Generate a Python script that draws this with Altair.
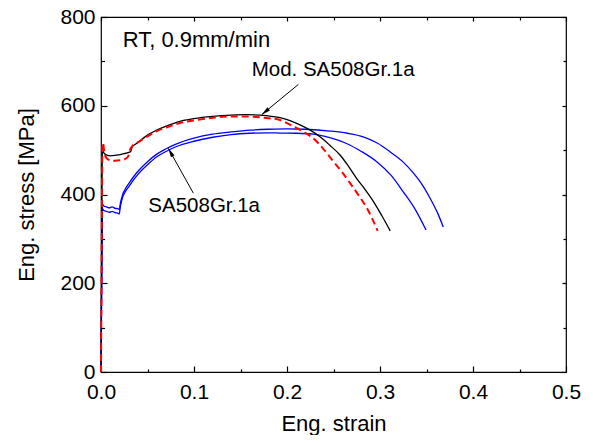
import math
import pandas as pd
import altair as alt

# ---------------- data ----------------
# Mod. SA508Gr.1a (black solid)
mod_x = [0, 0.0008, 0.0015, 0.003, 0.006, 0.01, 0.015, 0.02, 0.025, 0.03, 0.032, 0.0335, 0.037,
         0.04, 0.045, 0.05, 0.06, 0.07, 0.085, 0.10, 0.12, 0.14, 0.155, 0.17, 0.18, 0.1925, 0.204,
         0.214, 0.225, 0.2355, 0.246, 0.257, 0.266, 0.275, 0.284, 0.293, 0.302, 0.311]
mod_y = [0, 300, 500, 494, 489, 487, 488, 490, 492, 495, 497, 507, 513,
         518, 526, 534, 545, 554, 565, 571, 576, 579, 580, 579, 577, 573, 566,
         557, 545, 530, 511, 489, 464, 436, 411, 384, 352, 318]

# Mod. SA508Gr.1a (red dashed)
modb_x = [0, 0.0008, 0.0015, 0.002, 0.004, 0.007, 0.01, 0.015, 0.02, 0.025, 0.029, 0.031, 0.034,
          0.04, 0.05, 0.06, 0.07, 0.085, 0.10, 0.12, 0.14, 0.155, 0.17, 0.18, 0.1925, 0.207, 0.218,
          0.228, 0.239, 0.25, 0.259, 0.268, 0.277, 0.286, 0.2975]
modb_y = [0, 300, 505, 517, 490, 480, 477, 476, 477, 479, 485, 500, 510,
          518, 531, 543, 551, 561, 567, 573, 576, 576, 574, 572, 568, 553, 541,
          527, 503, 474, 451, 425, 398, 369, 318]

# SA508Gr.1a specimen 1 (blue)
sa1_x = [0, 0.0008, 0.0015, 0.003, 0.006, 0.009, 0.012, 0.015, 0.018, 0.0195, 0.021, 0.023, 0.026,
         0.03, 0.035, 0.04, 0.05, 0.06, 0.07, 0.08, 0.10, 0.12, 0.14, 0.16, 0.18, 0.20, 0.22, 0.246,
         0.265, 0.282, 0.297, 0.311, 0.325, 0.336, 0.346, 0.354, 0.362, 0.368]
sa1_y = [0, 230, 378, 374, 372, 370, 372, 369, 368, 366, 382, 398, 412,
         425, 440, 453, 474, 491, 503, 513, 527, 536, 541, 545, 547, 548, 547, 543,
         538, 530, 516, 496, 473, 448, 420, 391, 358, 327]

# SA508Gr.1a specimen 2 (blue)
sa2_x = [0, 0.0008, 0.0015, 0.003, 0.006, 0.009, 0.012, 0.015, 0.018, 0.0195, 0.021, 0.023, 0.026,
         0.03, 0.035, 0.04, 0.05, 0.06, 0.07, 0.08, 0.10, 0.12, 0.14, 0.16, 0.18, 0.1925, 0.21,
         0.228, 0.246, 0.264, 0.28, 0.2965, 0.312, 0.325, 0.338, 0.3495]
sa2_y = [0, 220, 368, 364, 362, 360, 362, 359, 358, 356, 375, 392, 406,
         418, 433, 446, 467, 485, 497, 507, 520, 529, 535, 538, 539, 538.5, 538,
         536, 528, 515, 497, 474, 443, 406, 366, 320]

# annotations
cond_text = ["RT, 0.9mm/min"]
cond_x = [0.0233]
cond_y = [733]

label_text = ["Mod. SA508Gr.1a", "SA508Gr.1a"]
label_x = [0.162, 0.0509]
label_y = [667, 361]

arrow_x0 = [0.2122, 0.0993]
arrow_y0 = [648, 403]
arrow_x1 = [0.1728, 0.0724]
arrow_y1 = [580, 504]

x_major = [0.0, 0.1, 0.2, 0.3, 0.4, 0.5]
x_minor = [0.05, 0.15, 0.25, 0.35, 0.45]
y_major = [0, 200, 400, 600, 800]
y_minor = [100, 300, 500, 700]

# ---------------- chart ----------------
W, H = 465, 355
XMAX, YMAX = 0.5, 800
FONT = "Liberation Sans"

xs = alt.Scale(domain=[0, XMAX], nice=False, zero=False)
ys = alt.Scale(domain=[0, YMAX], nice=False, zero=False)

frame = pd.DataFrame({"x": [0, XMAX], "y": [0, YMAX]})


def carrier(xaxis, yaxis):
    return alt.Chart(frame).mark_point(opacity=0).encode(
        x=alt.X("x:Q", scale=xs, axis=xaxis, title=None),
        y=alt.Y("y:Q", scale=ys, axis=yaxis, title=None),
    )


def tick_axis(orient, values, size):
    return alt.Axis(orient=orient, values=values, labels=False, domain=False, grid=False,
                    ticks=True, tickSize=size, tickWidth=1.2, tickColor="black",
                    offset=-size, title=None)


main_axes = carrier(
    alt.Axis(orient="bottom", values=x_major, format=".1f", domain=False, ticks=False,
             tickSize=0, grid=False, labelFont=FONT, labelFontSize=21, labelColor="black",
             labelPadding=9, labelFlush=False, labelOverlap=False,
             title="Eng. strain", titleFont=FONT, titleFontSize=22, titleFontWeight="normal",
             titleColor="black", titleBaseline="alphabetic", titleY=58, titleX=W / 2,
             titleAlign="center"),
    alt.Axis(orient="left", values=y_major, format="d", domain=False, ticks=False,
             tickSize=0, grid=False, labelFont=FONT, labelFontSize=21, labelColor="black",
             labelPadding=6, labelOverlap=False,
             title="Eng. stress [MPa]", titleFont=FONT, titleFontSize=22,
             titleFontWeight="normal", titleColor="black", titleAngle=270,
             titleBaseline="alphabetic", titleX=-68, titleY=H / 2, titleAlign="center"),
)
bl_major = carrier(tick_axis("bottom", x_major, 6), tick_axis("left", y_major, 6))
bl_minor = carrier(tick_axis("bottom", x_minor, 3), tick_axis("left", y_minor, 3.5))
tr_major = carrier(tick_axis("top", x_major, 4), tick_axis("right", y_major, 4))
tr_minor = carrier(tick_axis("top", x_minor, 3), tick_axis("right", y_minor, 3))


def curve(xv, yv, color, width, dash=None):
    df = pd.DataFrame({"strain": xv, "stress": yv})
    kw = dict(color=color, strokeWidth=width, interpolate="monotone")
    if dash:
        kw["strokeDash"] = dash
    return alt.Chart(df).mark_line(**kw).encode(
        x=alt.X("strain:Q", scale=xs, axis=None),
        y=alt.Y("stress:Q", scale=ys, axis=None),
    )


c_sa1 = curve(sa1_x, sa1_y, "#0000ff", 1.3)
c_sa2 = curve(sa2_x, sa2_y, "#0000ff", 1.3)
c_mod = curve(mod_x, mod_y, "#000000", 1.3)
c_modb = curve(modb_x, modb_y, "#ff0000", 2, [7, 4])


def text_layer(tv, xv, yv, size):
    df = pd.DataFrame({"t": tv, "x": xv, "y": yv})
    return alt.Chart(df).mark_text(align="left", baseline="alphabetic", font=FONT,
                                   fontSize=size, color="black").encode(
        x=alt.X("x:Q", scale=xs, axis=None),
        y=alt.Y("y:Q", scale=ys, axis=None),
        text="t:N",
    )


cond_label = text_layer(cond_text, cond_x, cond_y, 22)
series_labels = text_layer(label_text, label_x, label_y, 20.5)

px_x = W / XMAX
px_y = H / YMAX
angles = []
for x0, y0, x1, y1 in zip(arrow_x0, arrow_y0, arrow_x1, arrow_y1):
    dx = (x1 - x0) * px_x
    dy = -(y1 - y0) * px_y
    angles.append(math.degrees(math.atan2(dx, -dy)) % 360)

arr_df = pd.DataFrame({"x0": arrow_x0, "y0": arrow_y0, "x1": arrow_x1, "y1": arrow_y1,
                       "ang": angles})
arrow_lines = alt.Chart(arr_df).mark_rule(color="black", strokeWidth=1).encode(
    x=alt.X("x0:Q", scale=xs, axis=None),
    y=alt.Y("y0:Q", scale=ys, axis=None),
    x2="x1:Q",
    y2="y1:Q",
)
arrow_heads = alt.Chart(arr_df).mark_point(
    shape="M0,0L-0.45,2L0.45,2Z", filled=True, size=81, color="black", opacity=1,
    strokeWidth=0,
).encode(
    x=alt.X("x1:Q", scale=xs, axis=None),
    y=alt.Y("y1:Q", scale=ys, axis=None),
    angle=alt.Angle("ang:Q", scale=None),
)

chart = alt.layer(
    main_axes, bl_major, bl_minor, tr_major, tr_minor,
    c_sa1, c_sa2, c_mod, c_modb, cond_label, series_labels, arrow_lines, arrow_heads,
).resolve_axis(
    x="independent", y="independent"
).properties(
    width=W, height=H, autosize="none",
    padding={"left": 93, "top": 9, "right": 19, "bottom": 63},
    background="white",
).configure_view(
    stroke="black", strokeWidth=1.2
)

chart.save("out.html", embed_options={"renderer": "svg", "actions": False})
